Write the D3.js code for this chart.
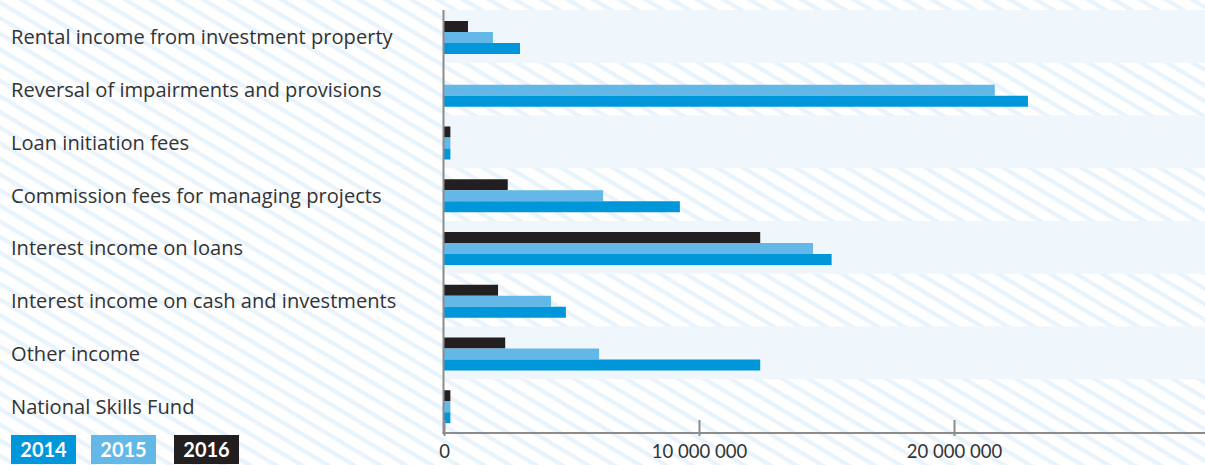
<!DOCTYPE html>
<html>
<head>
<meta charset="utf-8">
<script src="https://cdn.jsdelivr.net/npm/d3@7"></script>
<style>
  html, body { margin: 0; padding: 0; background: #fff; }
  svg { display: block; }
</style>
</head>
<body>
<svg id="chart" width="1205" height="465"></svg>
<script>
const categories = [
  "Rental income from investment property",
  "Reversal of impairments and provisions",
  "Loan initiation fees",
  "Commission fees for managing projects",
  "Interest income on loans",
  "Interest income on cash and investments",
  "Other income",
  "National Skills Fund"
];
const seriesNames = ["2014", "2015", "2016"];
const values2014 = [2980000, 22900000, 250000, 9250000, 15200000, 4780000, 12400000, 250000];
const values2015 = [1920000, 21600000, 250000, 6240000, 14470000, 4200000, 6080000, 250000];
const values2016 = [940000, 0, 250000, 2500000, 12400000, 2120000, 2400000, 250000];
const tickValues = [0, 10000000, 20000000];
const tickLabels = ["0", "10 000 000", "20 000 000"];

const colors = { "2014": "#0096da", "2015": "#63b8e8", "2016": "#231f20" };
const seriesValues = { "2014": values2014, "2015": values2015, "2016": values2016 };

const W = 1205, H = 465;
const plotLeft = 444, plotTop = 10, plotBottom = 432;
const svg = d3.select("#chart");

// background stripes
const defs = svg.append("defs");
const pat = defs.append("pattern")
  .attr("id", "stripes")
  .attr("patternUnits", "userSpaceOnUse")
  .attr("width", 13.4).attr("height", 13.4)
  .attr("patternTransform", "rotate(31)");
pat.append("rect").attr("width", 13.4).attr("height", 13.4).attr("fill", "#ffffff");
pat.append("rect").attr("x", 0).attr("y", 0).attr("width", 13.4).attr("height", 4.2).attr("fill", "#e8f3fb");

svg.append("rect").attr("width", W).attr("height", H).attr("fill", "url(#stripes)");

const x = d3.scaleLinear().domain([0, 20000000]).range([plotLeft, 954]);
const y = d3.scaleBand().domain(categories).range([plotTop, plotBottom]).paddingInner(0).paddingOuter(0);
const inner = d3.scaleBand().domain(["2016", "2015", "2014"]).range([11, 44]);

// alternating bands
svg.append("g").selectAll("rect")
  .data(categories.filter((d, i) => i % 2 === 0))
  .join("rect")
  .attr("x", plotLeft)
  .attr("y", d => y(d))
  .attr("width", W - plotLeft)
  .attr("height", y.bandwidth())
  .attr("fill", "#eff6fc");

// bars
const rows = svg.append("g").selectAll("g")
  .data(categories)
  .join("g")
  .attr("transform", d => `translate(0,${y(d)})`);

rows.selectAll("rect")
  .data((d, i) => ["2016", "2015", "2014"].map(s => ({ s, v: seriesValues[s][i] })))
  .join("rect")
  .attr("x", x(0))
  .attr("y", d => inner(d.s))
  .attr("height", inner.bandwidth())
  .attr("width", d => x(d.v) - x(0))
  .attr("fill", d => colors[d.s]);

// category labels
const labelFont = "'Open Sans', Lato, sans-serif";
const labels = svg.append("g").selectAll("text")
  .data(categories)
  .join("text")
  .attr("x", 11)
  .attr("y", d => y(d) + y.bandwidth() / 2 + 2.5)
  .attr("dominant-baseline", "middle")
  .attr("font-family", labelFont)
  .attr("font-size", 20)
  .attr("fill", "#333333")
  .text(d => d);
// fit the longest reference label width (~382px)
const w0 = labels.nodes()[0].getComputedTextLength();
const fs = Math.max(16, Math.min(22, 20 * 382 / w0));
labels.attr("font-size", fs);

// vertical axis line
svg.append("line")
  .attr("x1", plotLeft - 0.5).attr("x2", plotLeft - 0.5)
  .attr("y1", plotTop).attr("y2", plotBottom + 2)
  .attr("stroke", "#8c8c8c").attr("stroke-width", 2);

// bottom axis
const axis = d3.axisBottom(x)
  .tickValues(tickValues)
  .tickFormat((d, i) => tickLabels[i])
  .tickSizeOuter(0);
const gx = svg.append("g").attr("transform", `translate(0,${plotBottom + 1})`).call(axis);
gx.select(".domain").remove();
gx.selectAll(".tick line")
  .attr("y1", -13).attr("y2", 3)
  .attr("stroke", "#8c8c8c").attr("stroke-width", 2);
gx.selectAll(".tick text")
  .attr("y", 12)
  .attr("dy", "0.71em")
  .attr("font-family", "Lato, 'Open Sans', sans-serif")
  .attr("font-size", 18.5)
  .attr("fill", "#333333");
gx.insert("line", ":first-child")
  .attr("x1", plotLeft - 1.5).attr("x2", W)
  .attr("y1", 0).attr("y2", 0)
  .attr("stroke", "#8c8c8c").attr("stroke-width", 2);

// legend
const legendX = [11, 91, 174];
const lg = svg.append("g").selectAll("g")
  .data(seriesNames)
  .join("g")
  .attr("transform", (d, i) => `translate(${legendX[i]},435)`);
lg.append("rect").attr("width", 65).attr("height", 29).attr("fill", d => colors[d]);
lg.append("text")
  .attr("x", 32.5).attr("y", 22)
  .attr("text-anchor", "middle")
  .attr("font-family", "Lato, 'Open Sans', sans-serif")
  .attr("font-weight", "bold")
  .attr("font-size", 20)
  .attr("fill", "#ffffff")
  .text(d => d);
</script>
</body>
</html>
